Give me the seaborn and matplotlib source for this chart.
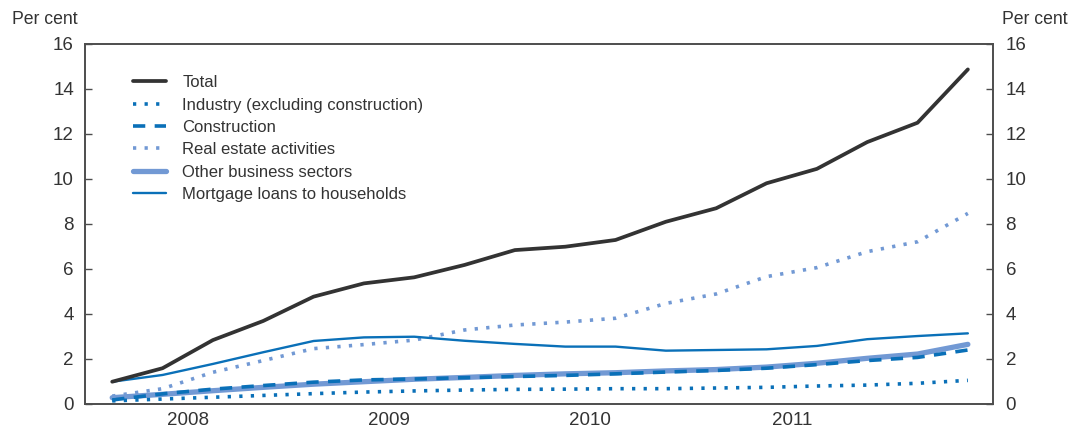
import matplotlib.pyplot as plt
import matplotlib.transforms as mtransforms
import seaborn as sns
import pandas as pd

# quarterly observations, 2008 Q1 - 2012 Q2 (per cent)
quarters = ['2008Q1', '2008Q2', '2008Q3', '2008Q4',
            '2009Q1', '2009Q2', '2009Q3', '2009Q4',
            '2010Q1', '2010Q2', '2010Q3', '2010Q4',
            '2011Q1', '2011Q2', '2011Q3', '2011Q4',
            '2012Q1', '2012Q2']
total = [0.99, 1.59, 2.84, 3.69, 4.77, 5.36, 5.63, 6.18, 6.84,
         6.99, 7.29, 8.10, 8.70, 9.81, 10.45, 11.64, 12.50, 14.87]
industry = [0.14, 0.22, 0.30, 0.38, 0.46, 0.53, 0.58, 0.62, 0.65,
            0.66, 0.68, 0.68, 0.71, 0.74, 0.80, 0.84, 0.92, 1.05]
construction = [0.18, 0.45, 0.66, 0.82, 0.97, 1.07, 1.11, 1.17, 1.22,
                1.27, 1.34, 1.42, 1.49, 1.59, 1.75, 1.93, 2.07, 2.40]
real_estate = [0.35, 0.68, 1.41, 1.93, 2.46, 2.64, 2.84, 3.29, 3.51,
               3.64, 3.81, 4.47, 4.89, 5.66, 6.06, 6.77, 7.21, 8.47]
other_business = [0.28, 0.43, 0.59, 0.74, 0.88, 0.99, 1.10, 1.18, 1.27,
                  1.34, 1.39, 1.47, 1.53, 1.64, 1.81, 2.03, 2.22, 2.65]
mortgage = [0.99, 1.29, 1.78, 2.30, 2.80, 2.96, 2.99, 2.81, 2.67,
            2.55, 2.55, 2.37, 2.40, 2.43, 2.58, 2.88, 3.02, 3.14]
years = [2008, 2009, 2010, 2011]

df = pd.DataFrame({
    'quarter': quarters,
    'Total': total,
    'Industry (excluding construction)': industry,
    'Construction': construction,
    'Real estate activities': real_estate,
    'Other business sectors': other_business,
    'Mortgage loans to households': mortgage,
})
# mid-quarter position in decimal years
df['x'] = [int(q[:4]) + (int(q[-1]) - 0.5) / 4 for q in df['quarter']]

sns.set_style('white')
plt.rcParams['font.family'] = ['Liberation Sans', 'DejaVu Sans']
txt = '#333333'
spine_col = '#4d4d4d'

blue = '#0a70b8'
light = '#7299d4'

fig, ax = plt.subplots(figsize=(10.71, 4.33), dpi=100)
fig.subplots_adjust(left=0.0794, right=0.9272, top=0.8984, bottom=0.067)

# draw order: thick band first, total on top
styles = {
    'Other business sectors': dict(color=light, lw=3.8, ls='-'),
    'Construction': dict(color=blue, lw=2.6, ls=(0, (3.4, 2.6))),
    'Industry (excluding construction)': dict(color=blue, lw=2.6, ls=(0, (0.9, 2.3))),
    'Real estate activities': dict(color=light, lw=2.6, ls=(0, (0.9, 2.3))),
    'Mortgage loans to households': dict(color=blue, lw=1.7, ls='-'),
    'Total': dict(color='#333333', lw=2.7, ls='-'),
}
for name, st in styles.items():
    sns.lineplot(data=df, x='x', y=name, ax=ax, label=name,
                 color=st['color'], linewidth=st['lw'], linestyle=st['ls'])

ax2 = ax.twinx()

ax.set_yticks(range(0, 17, 2))
ax.set_xticks([2008, 2009, 2010, 2011, 2012])
ax.set_xticks([y + q / 4 for y in range(2008, 2013) for q in range(3)], minor=True)
ax2.set_yticks(range(0, 17, 2))

# limits last: set_xticks would otherwise widen the view
ax.set_xlim(2007.99, 2012.5)
ax.set_ylim(0, 16)
ax2.set_ylim(0, 16)
ax.set_xlabel('')
ax.set_ylabel('')

ax.tick_params(axis='x', which='major', direction='in', length=8, width=1,
               color=spine_col, labelbottom=False)
ax.tick_params(axis='x', which='minor', direction='in', length=4, width=1,
               color=spine_col)
ax.tick_params(axis='y', direction='in', length=5, width=1, color=spine_col,
               labelsize=13.5, labelcolor=txt, pad=8)
ax2.tick_params(axis='y', direction='in', length=5, width=1, color=spine_col,
                labelsize=13.5, labelcolor=txt, pad=9)

for a in (ax, ax2):
    for s in a.spines.values():
        s.set_color(spine_col)
        s.set_linewidth(1.2)

# year labels centred under each year
trans = mtransforms.blended_transform_factory(ax.transData, ax.transAxes)
for y in years:
    ax.text(y + 0.5, -0.022, str(y), transform=trans, ha='center', va='top',
            fontsize=13.5, color=txt)

fig.text(12 / 1071, 1 - 20 / 433, 'Per cent', ha='left', va='center',
         fontsize=12.7, color=txt)
fig.text(1068 / 1071, 1 - 20 / 433, 'Per cent', ha='right', va='center',
         fontsize=12.7, color=txt)

# legend in the original order
order = ['Total', 'Industry (excluding construction)', 'Construction',
         'Real estate activities', 'Other business sectors',
         'Mortgage loans to households']
handles, labels = ax.get_legend_handles_labels()
hmap = dict(zip(labels, handles))
ax.legend([hmap[k] for k in order], order, loc='upper left',
          bbox_to_anchor=(0.053, 0.913), frameon=False, fontsize=12,
          labelcolor=txt, handlelength=2.0, handletextpad=0.95,
          labelspacing=0.44, borderpad=0, borderaxespad=0)

plt.savefig('out.png', dpi=100)
